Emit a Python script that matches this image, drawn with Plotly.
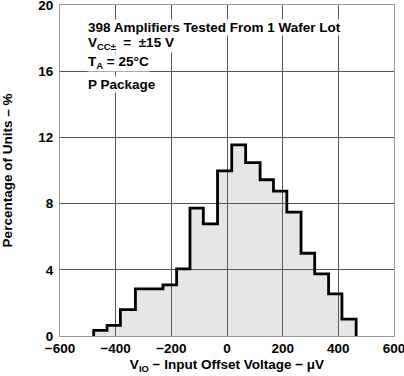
import plotly.graph_objects as go

# Histogram bin edges (µV) and percentage of units per bin
bin_edges = [-479, -431, -383, -329, -280, -230, -181, -133, -85, -34,
             17, 67, 119, 167, 215, 266, 315, 365, 413, 464]
percent = [0.34, 0.64, 1.59, 2.85, 2.85, 3.09, 4.06, 7.73, 6.77, 9.98,
           11.55, 10.48, 9.44, 8.75, 7.49, 5.0, 3.75, 2.55, 1.02]

x_ticks = [-600, -400, -200, 0, 200, 400, 600]
x_tick_text = ["\u2212600", "\u2212400", "\u2212200", "0", "200", "400", "600"]
y_ticks = [0, 4, 8, 12, 16, 20]

notes = [
    "398 Amplifiers Tested From 1 Wafer Lot",
    "V<sub>CC\u00b1</sub>  =  \u00b115 V",
    "T<sub>A</sub> = 25\u00b0C",
    "P Package",
]
note_y = [18.66, 17.66, 16.5, 15.2]

FONT = "Liberation Sans, Arial, sans-serif"

# step outline: start at baseline, up to first value, steps, down at the end
xs = [bin_edges[0]] + bin_edges[:-1] + [bin_edges[-1], bin_edges[-1]]
ys = [0] + percent + [percent[-1], 0]

fig = go.Figure()
fig.add_trace(go.Scatter(
    x=xs, y=ys, mode="lines", line=dict(color="black", width=2.8, shape="hv"),
    fill="tozeroy", fillcolor="rgba(120,120,120,0.19)", hoverinfo="skip",
    showlegend=False,
))

for txt, yy in zip(notes, note_y):
    fig.add_annotation(
        x=-503, y=yy, xref="x", yref="y", text=txt, showarrow=False,
        xanchor="left", yanchor="middle", bgcolor="white", borderpad=0,
        font=dict(family=FONT, size=13.5, color="black", weight="bold"),
    )

fig.update_xaxes(
    range=[-600, 600], tickvals=x_ticks, ticktext=x_tick_text,
    showgrid=True, gridcolor="#555", gridwidth=1, zeroline=False,
    showline=True, linecolor="#999", linewidth=1, mirror=True, ticks="",
    ticklabeloverflow="allow",
    tickfont=dict(family=FONT, size=13.5, color="black", weight="bold"),
    title=dict(text="V<sub>IO</sub> \u2212 Input Offset Voltage \u2212 \u03bcV",
               font=dict(family=FONT, size=13.5, color="black", weight="bold"),
               standoff=4),
)
fig.update_yaxes(
    range=[0, 20], tickvals=y_ticks,
    showgrid=True, gridcolor="#555", gridwidth=1, zeroline=False,
    showline=True, linecolor="#999", linewidth=1, mirror=True, ticks="",
    ticklabeloverflow="allow", ticklabelstandoff=3,
    tickfont=dict(family=FONT, size=13.5, color="black", weight="bold"),
    title=dict(text="Percentage of Units \u2013 %",
               font=dict(family=FONT, size=13.5, color="black", weight="bold"),
               standoff=23),
)
fig.update_layout(
    width=404, height=376, margin=dict(l=60, r=10, t=5, b=40, autoexpand=False),
    paper_bgcolor="white", plot_bgcolor="white",
)
fig.write_html(
    "out.html",
    config={"displayModeBar": False},
    post_script="document.body.style.margin='0px';document.body.style.padding='0px';"
                "document.body.style.overflow='hidden';",
)
